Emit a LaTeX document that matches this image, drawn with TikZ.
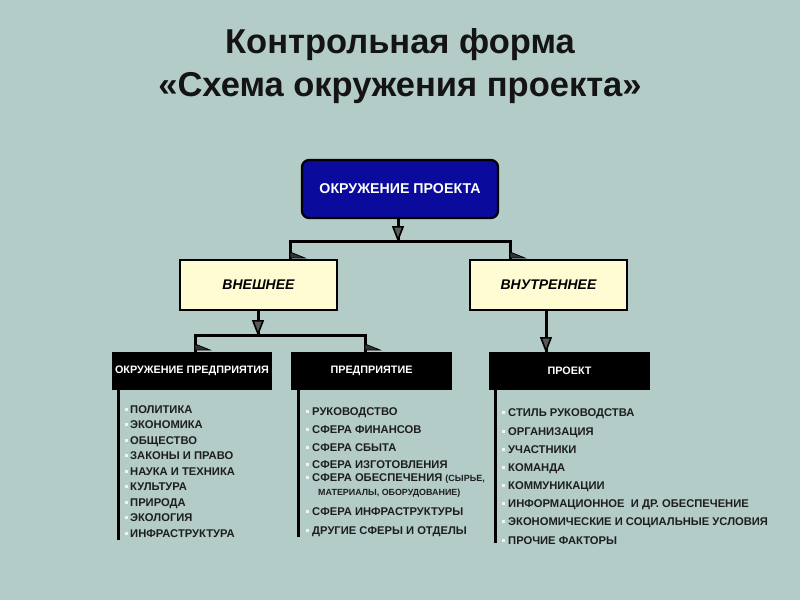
\documentclass[tikz,border=0pt]{standalone}
\usepackage{fontspec}
\setmainfont{Liberation Sans}
\usetikzlibrary{arrows.meta,positioning,calc}
\definecolor{bg}{HTML}{B3CCC8}
\definecolor{topblue}{HTML}{0A0A9C}
\definecolor{paleyel}{HTML}{FFFBD2}
\definecolor{itemtxt}{HTML}{1E1E1E}
\tikzset{
  conn/.style={line width=3pt,black},
  tipd/.style={-{Triangle[open,width=12pt,length=16pt,line width=1.6pt,fill=black!65]}},
  yelbox/.style={draw=black,line width=1.8pt,fill=paleyel,minimum width=157pt,minimum height=50pt,font=\fontsize{14}{16}\selectfont\bfseries\itshape},
  blkbox/.style={fill=black,text=white,minimum width=160pt,minimum height=38pt,font=\fontsize{10.8}{12}\selectfont\bfseries},
  item/.style={anchor=base west,inner sep=0pt,text=itemtxt,font=\fontsize{11.2}{12}\selectfont\bfseries},
  bul/.style={fill=white!80!bg,minimum size=3pt,inner sep=0pt},
  side/.style={fill=black!80,draw=black,line width=0.8pt},
}
\begin{document}
\begin{tikzpicture}[x=1pt,y=-1pt]
\useasboundingbox (0,0) rectangle (800,600);
\fill[bg] (0,0) rectangle (800,600);
% title
\node[font=\fontsize{34.5}{38}\selectfont\bfseries,text=black!92] (t1) at (400,45) {Контрольная форма};
\node[font=\fontsize{34.5}{38}\selectfont\bfseries,text=black!92] (t2) at (400,88) {«Схема окружения проекта»};
% boxes
\node[draw=black,line width=2.2pt,rounded corners=7pt,fill=topblue,text=white,minimum width=196pt,minimum height=58pt,font=\fontsize{14.2}{16}\selectfont\bfseries] (top) at (400,189) {ОКРУЖЕНИЕ ПРОЕКТА};
\node[yelbox] (ext) at (258.5,285) {ВНЕШНЕЕ};
\node[yelbox] (int) at (548.5,285) {ВНУТРЕННЕЕ};
\node[blkbox] (env) at (192,371) {ОКРУЖЕНИЕ ПРЕДПРИЯТИЯ};
\node[blkbox,minimum width=161pt] (ent) at (371.5,371) {ПРЕДПРИЯТИЕ};
\node[blkbox,minimum width=161pt] (proj) at (569.5,371) {ПРОЕКТ};
% connectors level 1
\coordinate (b1) at (398,241);
\coordinate (b1l) at (290,241);
\coordinate (b1r) at (510,241);
\draw[conn] (top.south -| b1) -- (b1);
\draw[conn,line cap=rect] (b1l) -- (b1r);
\draw[conn] (b1l) -- (b1l |- ext.north);
\draw[conn] (b1r) -- (b1r |- int.north);
\draw[tipd] ([yshift=-4pt]top.south -| b1) -- ([yshift=-1pt]b1);
\fill[side] (290,252) -- (305,258) -- (290,258) -- cycle;
\fill[side] (510,252) -- (525,258) -- (510,258) -- cycle;
% connectors level 2
\coordinate (b2) at (258,335);
\coordinate (b2l) at (195,335);
\coordinate (b2r) at (365,335);
\draw[conn] (ext.south -| b2) -- (b2);
\draw[conn,line cap=rect] (b2l) -- (b2r);
\draw[conn] (b2l) -- (b2l |- env.north);
\draw[conn] (b2r) -- (b2r |- ent.north);
\draw[tipd] ([yshift=-4pt]ext.south -| b2) -- ([yshift=-1pt]b2);
\fill[side] (195,344) -- (210,350) -- (195,350) -- cycle;
\fill[side] (365,344) -- (380,350) -- (365,350) -- cycle;
\coordinate (b3) at (546,352);
\draw[conn] (ext.south -| b3) -- (b3);
\draw[tipd] ($(b3)+(0,-19)$) -- ([yshift=-1pt]b3);
% list rails
\draw[line width=3pt] (env.south -| 118,0) -- (118,540);
\draw[line width=3pt] (ent.south -| 298,0) -- (298,537);
\draw[line width=3pt] (proj.south -| 495,0) -- (495,543);
% left list
\foreach \t [count=\i] in {ПОЛИТИКА,ЭКОНОМИКА,ОБЩЕСТВО,ЗАКОНЫ И ПРАВО,НАУКА И ТЕХНИКА,КУЛЬТУРА,ПРИРОДА,ЭКОЛОГИЯ,ИНФРАСТРУКТУРА}{
  \node[bul] (lb\i) at (126,{409+(\i-1)*15.5}) {};
  \node[item] (l\i) at (130,{413+(\i-1)*15.5}) {\t};
}
% middle list
\foreach \t/\y [count=\i] in {РУКОВОДСТВО/411,СФЕРА ФИНАНСОВ/429,СФЕРА СБЫТА/447,СФЕРА ИЗГОТОВЛЕНИЯ/464,{СФЕРА ОБЕСПЕЧЕНИЯ {\fontsize{9}{10}\selectfont(СЫРЬЕ,}}/477,СФЕРА ИНФРАСТРУКТУРЫ/511,ДРУГИЕ СФЕРЫ И ОТДЕЛЫ/530}{
  \node[bul] (mb\i) at (307,\y) {};
  \node[item] (m\i) at (312,\y+4) {\t};
}
\node[item,font=\fontsize{8.9}{10}\selectfont\bfseries] (m5b) at (318,495) {МАТЕРИАЛЫ, ОБОРУДОВАНИЕ)};
% right list
\foreach \t/\y [count=\i] in {СТИЛЬ РУКОВОДСТВА/412,ОРГАНИЗАЦИЯ/431,УЧАСТНИКИ/449,КОМАНДА/467,КОММУНИКАЦИИ/485,ИНФОРМАЦИОННОЕ \ И ДР. ОБЕСПЕЧЕНИЕ/503,ЭКОНОМИЧЕСКИЕ И СОЦИАЛЬНЫЕ УСЛОВИЯ/521,ПРОЧИЕ ФАКТОРЫ/540}{
  \node[bul] (rb\i) at (503,\y) {};
  \node[item] (r\i) at (508,\y+4) {\t};
}
\end{tikzpicture}
\end{document}
